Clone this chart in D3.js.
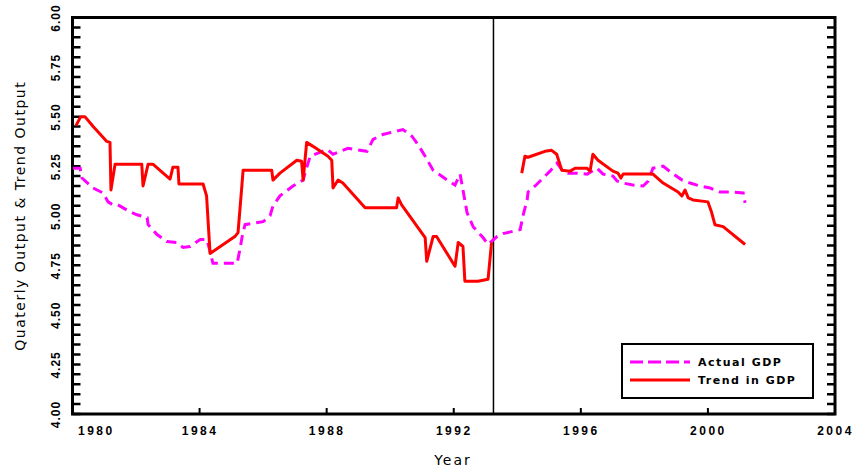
<!DOCTYPE html>
<html lang="en">
<head>
<meta charset="utf-8">
<title>Quarterly Output & Trend Output</title>
<style>
  body { margin: 0; background: #fff; }
  svg { display: block; font-family: "DejaVu Sans", sans-serif; }
  .domain { display: none; }
</style>
</head>
<body>
<script src="https://d3js.org/d3.v7.min.js"></script>
<script>
// series (years as decimal, null = gap in the trend line)
const actualYears = [1980.02, 1980.24, 1980.30, 1980.65, 1980.96, 1981.12, 1981.27, 1981.43, 1981.81, 1982.03,
  1982.35, 1982.38, 1982.66, 1982.97, 1983.29, 1983.48, 1983.70, 1984.02, 1984.23, 1984.33,
  1984.42, 1985.18, 1985.27, 1985.34, 1985.43, 1986.00, 1986.22, 1986.31, 1986.53, 1986.94,
  1987.26, 1987.32, 1987.48, 1988.01, 1988.20, 1988.67, 1989.27, 1989.46, 1989.77, 1990.40,
  1990.69, 1990.87, 1991.10, 1991.35, 1991.79, 1992.04, 1992.20, 1992.29, 1992.42, 1992.61,
  1992.92, 1993.08, 1993.36, 1993.55, 1994.09, 1994.18, 1994.31, 1994.34, 1994.56, 1994.81,
  1995.03, 1995.25, 1995.41, 1995.60, 1995.88, 1996.20, 1996.51, 1996.70, 1997.01, 1997.14,
  1997.33, 1997.64, 1997.96, 1998.12, 1998.27, 1998.59, 1998.87, 1999.19, 1999.44, 1999.75,
  2000.07, 2000.38, 2000.70, 2001.11, 2001.17]
const actualValues = [5.24, 5.24, 5.19, 5.14, 5.115, 5.07, 5.055, 5.055, 5.02, 5.005,
  4.99, 4.955, 4.905, 4.87, 4.865, 4.84, 4.845, 4.88, 4.88, 4.82,
  4.76, 4.76, 4.83, 4.895, 4.955, 4.97, 5.00, 5.05, 5.10, 5.15,
  5.18, 5.215, 5.30, 5.335, 5.31, 5.34, 5.325, 5.385, 5.41, 5.435,
  5.40, 5.36, 5.30, 5.23, 5.18, 5.155, 5.21, 5.13, 5.015, 4.945,
  4.89, 4.855, 4.895, 4.91, 4.93, 5.00, 5.08, 5.12, 5.15, 5.19,
  5.225, 5.265, 5.23, 5.215, 5.215, 5.21, 5.24, 5.21, 5.20, 5.175,
  5.165, 5.155, 5.15, 5.175, 5.24, 5.25, 5.215, 5.18, 5.165, 5.15,
  5.14, 5.12, 5.12, 5.115, 5.065]

const trendYears = [1980.11, 1980.26, 1980.39, 1980.65, 1981.08, 1981.18, 1981.21, 1981.34, 1982.18, 1982.22,
  1982.38, 1982.53, 1983.07, 1983.16, 1983.32, 1983.35, 1984.11, 1984.22, 1984.33, 1985.11,
  1985.21, 1985.33, 1985.37, 1986.27, 1986.31, 1986.53, 1987.06, 1987.21, 1987.26, 1987.37,
  1987.57, 1988.04, 1988.16, 1988.20, 1988.36, 1988.51, 1989.21, 1990.20, 1990.25, 1990.36,
  1991.10, 1991.15, 1991.35, 1991.46, 1992.04, 1992.14, 1992.29, 1992.35, 1992.76, 1993.08,
  1993.19, 1993.60, 1994.14, 1994.24, 1994.34, 1994.87, 1995.08, 1995.24, 1995.40, 1995.66,
  1995.82, 1996.19, 1996.29, 1996.38, 1996.54, 1997.01, 1997.17, 1997.26, 1997.33, 1998.27,
  1998.59, 1999.06, 1999.18, 1999.28, 1999.38, 1999.53, 2000.00, 2000.12, 2000.22, 2000.48,
  2001.17]
const trendValues = [5.455, 5.50, 5.50, 5.45, 5.375, 5.37, 5.13, 5.26, 5.26, 5.15,
  5.26, 5.26, 5.185, 5.245, 5.245, 5.16, 5.16, 5.10, 4.81, 4.895,
  4.915, 5.15, 5.23, 5.23, 5.18, 5.215, 5.28, 5.275, 5.18, 5.37,
  5.35, 5.30, 5.28, 5.14, 5.18, 5.165, 5.04, 5.04, 5.09, 5.055,
  4.89, 4.77, 4.895, 4.895, 4.745, 4.865, 4.845, 4.67, 4.67, 4.68,
  4.865, null, 5.215, 5.30, 5.295, 5.325, 5.33, 5.31, 5.23, 5.225,
  5.24, 5.24, 5.225, 5.31, 5.28, 5.225, 5.215, 5.19, 5.21, 5.21,
  5.165, 5.12, 5.10, 5.13, 5.09, 5.08, 5.07, 5.015, 4.955, 4.945,
  4.855]

const yearTicks = [1980, 1984, 1988, 1992, 1996, 2000, 2004]
const valueTicks = [4.00, 4.25, 4.50, 4.75, 5.00, 5.25, 5.50, 5.75, 6.00]
const breakYear = 1993.25
const seriesNames = ["Actual GDP", "Trend in GDP"]

const w = 864, h = 470
const pl = 72.5, pr = 835, pt = 17.5, pb = 414

const svg = d3.select("body").append("svg").attr("width", w).attr("height", h)

const x = d3.scaleLinear().domain([1980, 2004]).range([pl, pr])
const y = d3.scaleLinear().domain([4, 6]).range([pb, pt])

// frame
svg.append("rect")
  .attr("x", pl).attr("y", pt)
  .attr("width", pr - pl).attr("height", pb - pt)
  .attr("fill", "none").attr("stroke", "#000").attr("stroke-width", 3)

// minor ticks every 0.05 on both sides, pointing inward
const minor = d3.range(0, 41).map(i => 4 + i * 0.05)
svg.append("g")
  .selectAll("path").data(minor).enter().append("path")
  .attr("d", d => `M${pl},${y(d)}H${pl + 8}M${pr - 8},${y(d)}H${pr}`)
  .attr("stroke", "#000").attr("stroke-width", 2.5).attr("fill", "none")
svg.append("g")
  .selectAll("path").data(yearTicks.slice(1, -1)).enter().append("path")
  .attr("d", d => `M${x(d)},${pb}V${pb - 6}`)
  .attr("stroke", "#000").attr("stroke-width", 2).attr("fill", "none")

// y labels, rotated
const yLab = svg.append("g").attr("transform", `translate(${pl},0)`)
  .call(d3.axisLeft(y).tickValues(valueTicks).tickSize(0).tickFormat(d3.format(".2f")))
yLab.selectAll("text")
  .attr("x", 0).attr("dy", 0)
  .attr("transform", "translate(-13,0) rotate(-90)")
  .attr("text-anchor", "middle")
  .style("font-size", "12px").style("font-weight", "bold").style("letter-spacing", "1px")
  .attr("fill", "#000")

// bottom labels
const xAx = svg.append("g").attr("transform", `translate(0,${pb})`)
  .call(d3.axisBottom(x).tickValues(yearTicks).tickSize(0).tickPadding(12).tickFormat(d3.format("d")))
xAx.selectAll("text")
  .style("font-size", "12px").style("font-weight", "bold").style("letter-spacing", "2.5px")
  .attr("fill", "#000")
xAx.selectAll(".tick").filter(d => d === 1980).select("text")
  .attr("text-anchor", "start").attr("x", 5)

// break line
svg.append("line")
  .attr("x1", x(breakYear)).attr("x2", x(breakYear))
  .attr("y1", pt).attr("y2", pb)
  .attr("stroke", "#000").attr("stroke-width", 1.5)

const actual = actualYears.map((d, i) => ({ yr: d, v: actualValues[i] }))
const trend = trendYears.map((d, i) => ({ yr: d, v: trendValues[i] }))

const line = d3.line().defined(d => d.v !== null).x(d => x(d.yr)).y(d => y(d.v))

svg.append("path").datum(actual)
  .attr("d", line).attr("fill", "none")
  .attr("stroke", "#ff00ff").attr("stroke-width", 3)
  .attr("stroke-dasharray", "10,6")

svg.append("path").datum(trend)
  .attr("d", line).attr("fill", "none")
  .attr("stroke", "#ff0000").attr("stroke-width", 3)
  .attr("stroke-linejoin", "round")

// axis titles
svg.append("text")
  .attr("transform", `translate(25,${(pt + pb) / 2}) rotate(-90)`)
  .attr("text-anchor", "middle")
  .style("font-size", "14px").style("letter-spacing", "1.5px")
  .text("Quaterly Output & Trend Output")

svg.append("text")
  .attr("x", 453).attr("y", 465)
  .attr("text-anchor", "middle")
  .style("font-size", "14px").style("letter-spacing", "2px")
  .text("Year")

// legend
const legend = svg.append("g").attr("transform", "translate(622,344)")
legend.append("rect")
  .attr("width", 191).attr("height", 54)
  .attr("fill", "#fff").attr("stroke", "#000").attr("stroke-width", 2)

const lg = legend.selectAll(".legend-label")
  .data(seriesNames)
  .enter().append("g")
  .attr("class", "legend-label")
  .attr("transform", (d, i) => `translate(0,${18 + i * 18})`)

lg.append("line")
  .attr("x1", 8).attr("x2", 68)
  .attr("stroke", (d, i) => i ? "#ff0000" : "#ff00ff")
  .attr("stroke-width", 3)
  .attr("stroke-dasharray", (d, i) => i ? null : "13,5")

lg.append("text")
  .attr("x", 76).attr("y", 4)
  .style("font-size", "11px").style("font-weight", "bold").style("letter-spacing", "1.5px")
  .text(d => d)
</script>
</body>
</html>
